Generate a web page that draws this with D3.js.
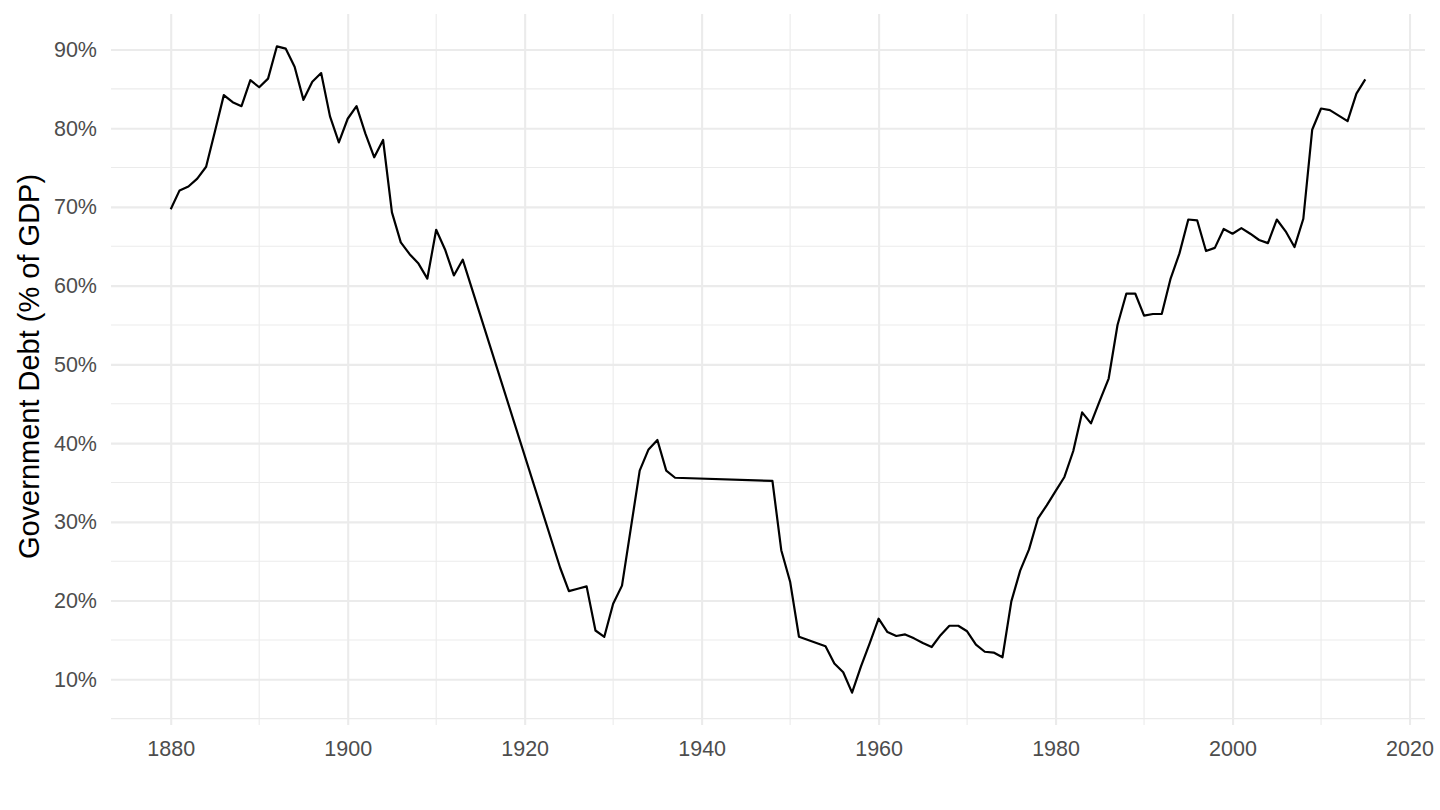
<!DOCTYPE html>
<meta charset="utf-8">
<script src="https://d3js.org/d3.v7.min.js"></script>
<style>
    body { margin: 0; background: #fff; }
    svg { display: block; font-family: "Liberation Sans", Arial, Helvetica, sans-serif; }
</style>
<div id="my_dataviz"></div>
<script>

    // data
    const years = [
        1880, 1881, 1882, 1883, 1884, 1885, 1886, 1887, 1888, 1889,
        1890, 1891, 1892, 1893, 1894, 1895, 1896, 1897, 1898, 1899,
        1900, 1901, 1902, 1903, 1904, 1905, 1906, 1907, 1908, 1909,
        1910, 1911, 1912, 1913, 1924, 1925, 1926, 1927, 1928, 1929,
        1930, 1931, 1932, 1933, 1934, 1935, 1936, 1937, 1948, 1949,
        1950, 1951, 1954, 1955, 1956, 1957, 1958, 1959, 1960, 1961,
        1962, 1963, 1964, 1965, 1966, 1967, 1968, 1969, 1970, 1971,
        1972, 1973, 1974, 1975, 1976, 1977, 1978, 1979, 1980, 1981,
        1982, 1983, 1984, 1985, 1986, 1987, 1988, 1989, 1990, 1991,
        1992, 1993, 1994, 1995, 1996, 1997, 1998, 1999, 2000, 2001,
        2002, 2003, 2004, 2005, 2006, 2007, 2008, 2009, 2010, 2011,
        2012, 2013, 2014, 2015
    ];
    const debt = [
        69.7, 72.1, 72.6, 73.6, 75.1, 79.6, 84.2, 83.3, 82.8, 86.1,
        85.2, 86.3, 90.4, 90.1, 87.8, 83.6, 85.9, 87.0, 81.5, 78.2,
        81.2, 82.8, 79.3, 76.3, 78.5, 69.3, 65.5, 64.0, 62.8, 60.9,
        67.1, 64.6, 61.3, 63.3, 24.2, 21.2, 21.5, 21.8, 16.2, 15.4,
        19.6, 21.9, 29.2, 36.5, 39.2, 40.4, 36.5, 35.6, 35.2, 26.4,
        22.4, 15.4, 14.2, 12.0, 10.9, 8.3, 11.6, 14.6, 17.7, 16.0,
        15.5, 15.7, 15.2, 14.6, 14.1, 15.6, 16.8, 16.8, 16.1, 14.4,
        13.5, 13.4, 12.8, 19.9, 23.8, 26.5, 30.4, 32.1, 33.9, 35.7,
        39.0, 43.9, 42.5, 45.4, 48.2, 55.0, 59.0, 59.0, 56.2, 56.4,
        56.4, 60.9, 64.1, 68.4, 68.3, 64.4, 64.8, 67.2, 66.6, 67.3,
        66.6, 65.8, 65.4, 68.4, 66.9, 64.9, 68.5, 79.8, 82.5, 82.3,
        81.6, 80.9, 84.4, 86.2
    ];
    const xTicks = [1880, 1900, 1920, 1940, 1960, 1980, 2000, 2020];
    const xMinor = [1890, 1910, 1930, 1950, 1970, 1990, 2010];
    const yTicks = [10, 20, 30, 40, 50, 60, 70, 80, 90];
    const yMinor = [5, 15, 25, 35, 45, 55, 65, 75, 85, 95];
    const yTitle = "Government Debt (% of GDP)";

    const data = years.map((d, i) => ({year: d, value: debt[i]}));

    // set the dimensions and margins of the graph
    const margin = {top: 14, right: 15, bottom: 85, left: 111},
        width = 1440 - margin.left - margin.right,
        height = 810 - margin.top - margin.bottom;

    const svg = d3.select("#my_dataviz")
        .append("svg")
        .attr("width", 1440)
        .attr("height", 810)
        .append("g")
        .attr("transform", `translate(${margin.left}, ${margin.top})`);

    // ggplot style 5% expansion
    const xExt = d3.extent(years), yExt = d3.extent(debt);
    const xPad = (xExt[1] - xExt[0]) * 0.05, yPad = (yExt[1] - yExt[0]) * 0.05;

    const x = d3.scaleLinear()
        .domain([xExt[0] - xPad, xExt[1] + xPad])
        .range([0, width]);
    const y = d3.scaleLinear()
        .domain([yExt[0] - yPad, yExt[1] + yPad])
        .range([height, 0]);

    const inY = v => v >= y.domain()[0] && v <= y.domain()[1];

    // minor grid
    svg.selectAll("line.xminor")
        .data(xMinor)
        .join("line")
        .attr("x1", d => x(d)).attr("x2", d => x(d))
        .attr("y1", 0).attr("y2", height)
        .attr("stroke", "#ebebeb").attr("stroke-width", 1.1);
    svg.selectAll("line.yminor")
        .data(yMinor.filter(inY))
        .join("line")
        .attr("x1", 0).attr("x2", width)
        .attr("y1", d => y(d)).attr("y2", d => y(d))
        .attr("stroke", "#ebebeb").attr("stroke-width", 1.1);

    // X axis
    svg.append("g")
        .call(d3.axisBottom(x).tickValues(xTicks).tickFormat(d3.format("d"))
            .tickSize(height).tickPadding(14))
        .call(g => g.select(".domain").remove())
        .call(g => g.selectAll(".tick line")
            .attr("y1", 0).attr("y2", height)
            .attr("stroke", "#ebebeb").attr("stroke-width", 2.1))
        .call(g => g.selectAll(".tick text")
            .attr("y", height + 16)
            .attr("dy", "0.71em")
            .attr("fill", "#4d4d4d")
            .style("font-size", "21.5px"));

    // Y axis
    svg.append("g")
        .call(d3.axisLeft(y).tickValues(yTicks).tickFormat(d => d + "%")
            .tickSize(0).tickPadding(14))
        .call(g => g.select(".domain").remove())
        .call(g => g.selectAll(".tick line")
            .attr("x1", 0).attr("x2", width)
            .attr("stroke", "#ebebeb").attr("stroke-width", 2.1))
        .call(g => g.selectAll(".tick text")
            .attr("fill", "#4d4d4d")
            .style("font-size", "21.5px"));

    // Line
    svg.append("path")
        .datum(data)
        .attr("fill", "none")
        .attr("stroke", "black")
        .attr("stroke-width", 2.2)
        .attr("stroke-linejoin", "round")
        .attr("d", d3.line().x(d => x(d.year)).y(d => y(d.value)));

    // Y title
    svg.append("text")
        .attr("transform", `translate(${29 - margin.left}, ${height / 2 - 3}) rotate(-90)`)
        .attr("text-anchor", "middle")
        .attr("dy", "0.35em")
        .style("font-size", "29px")
        .attr("fill", "black")
        .text(yTitle);

</script>
